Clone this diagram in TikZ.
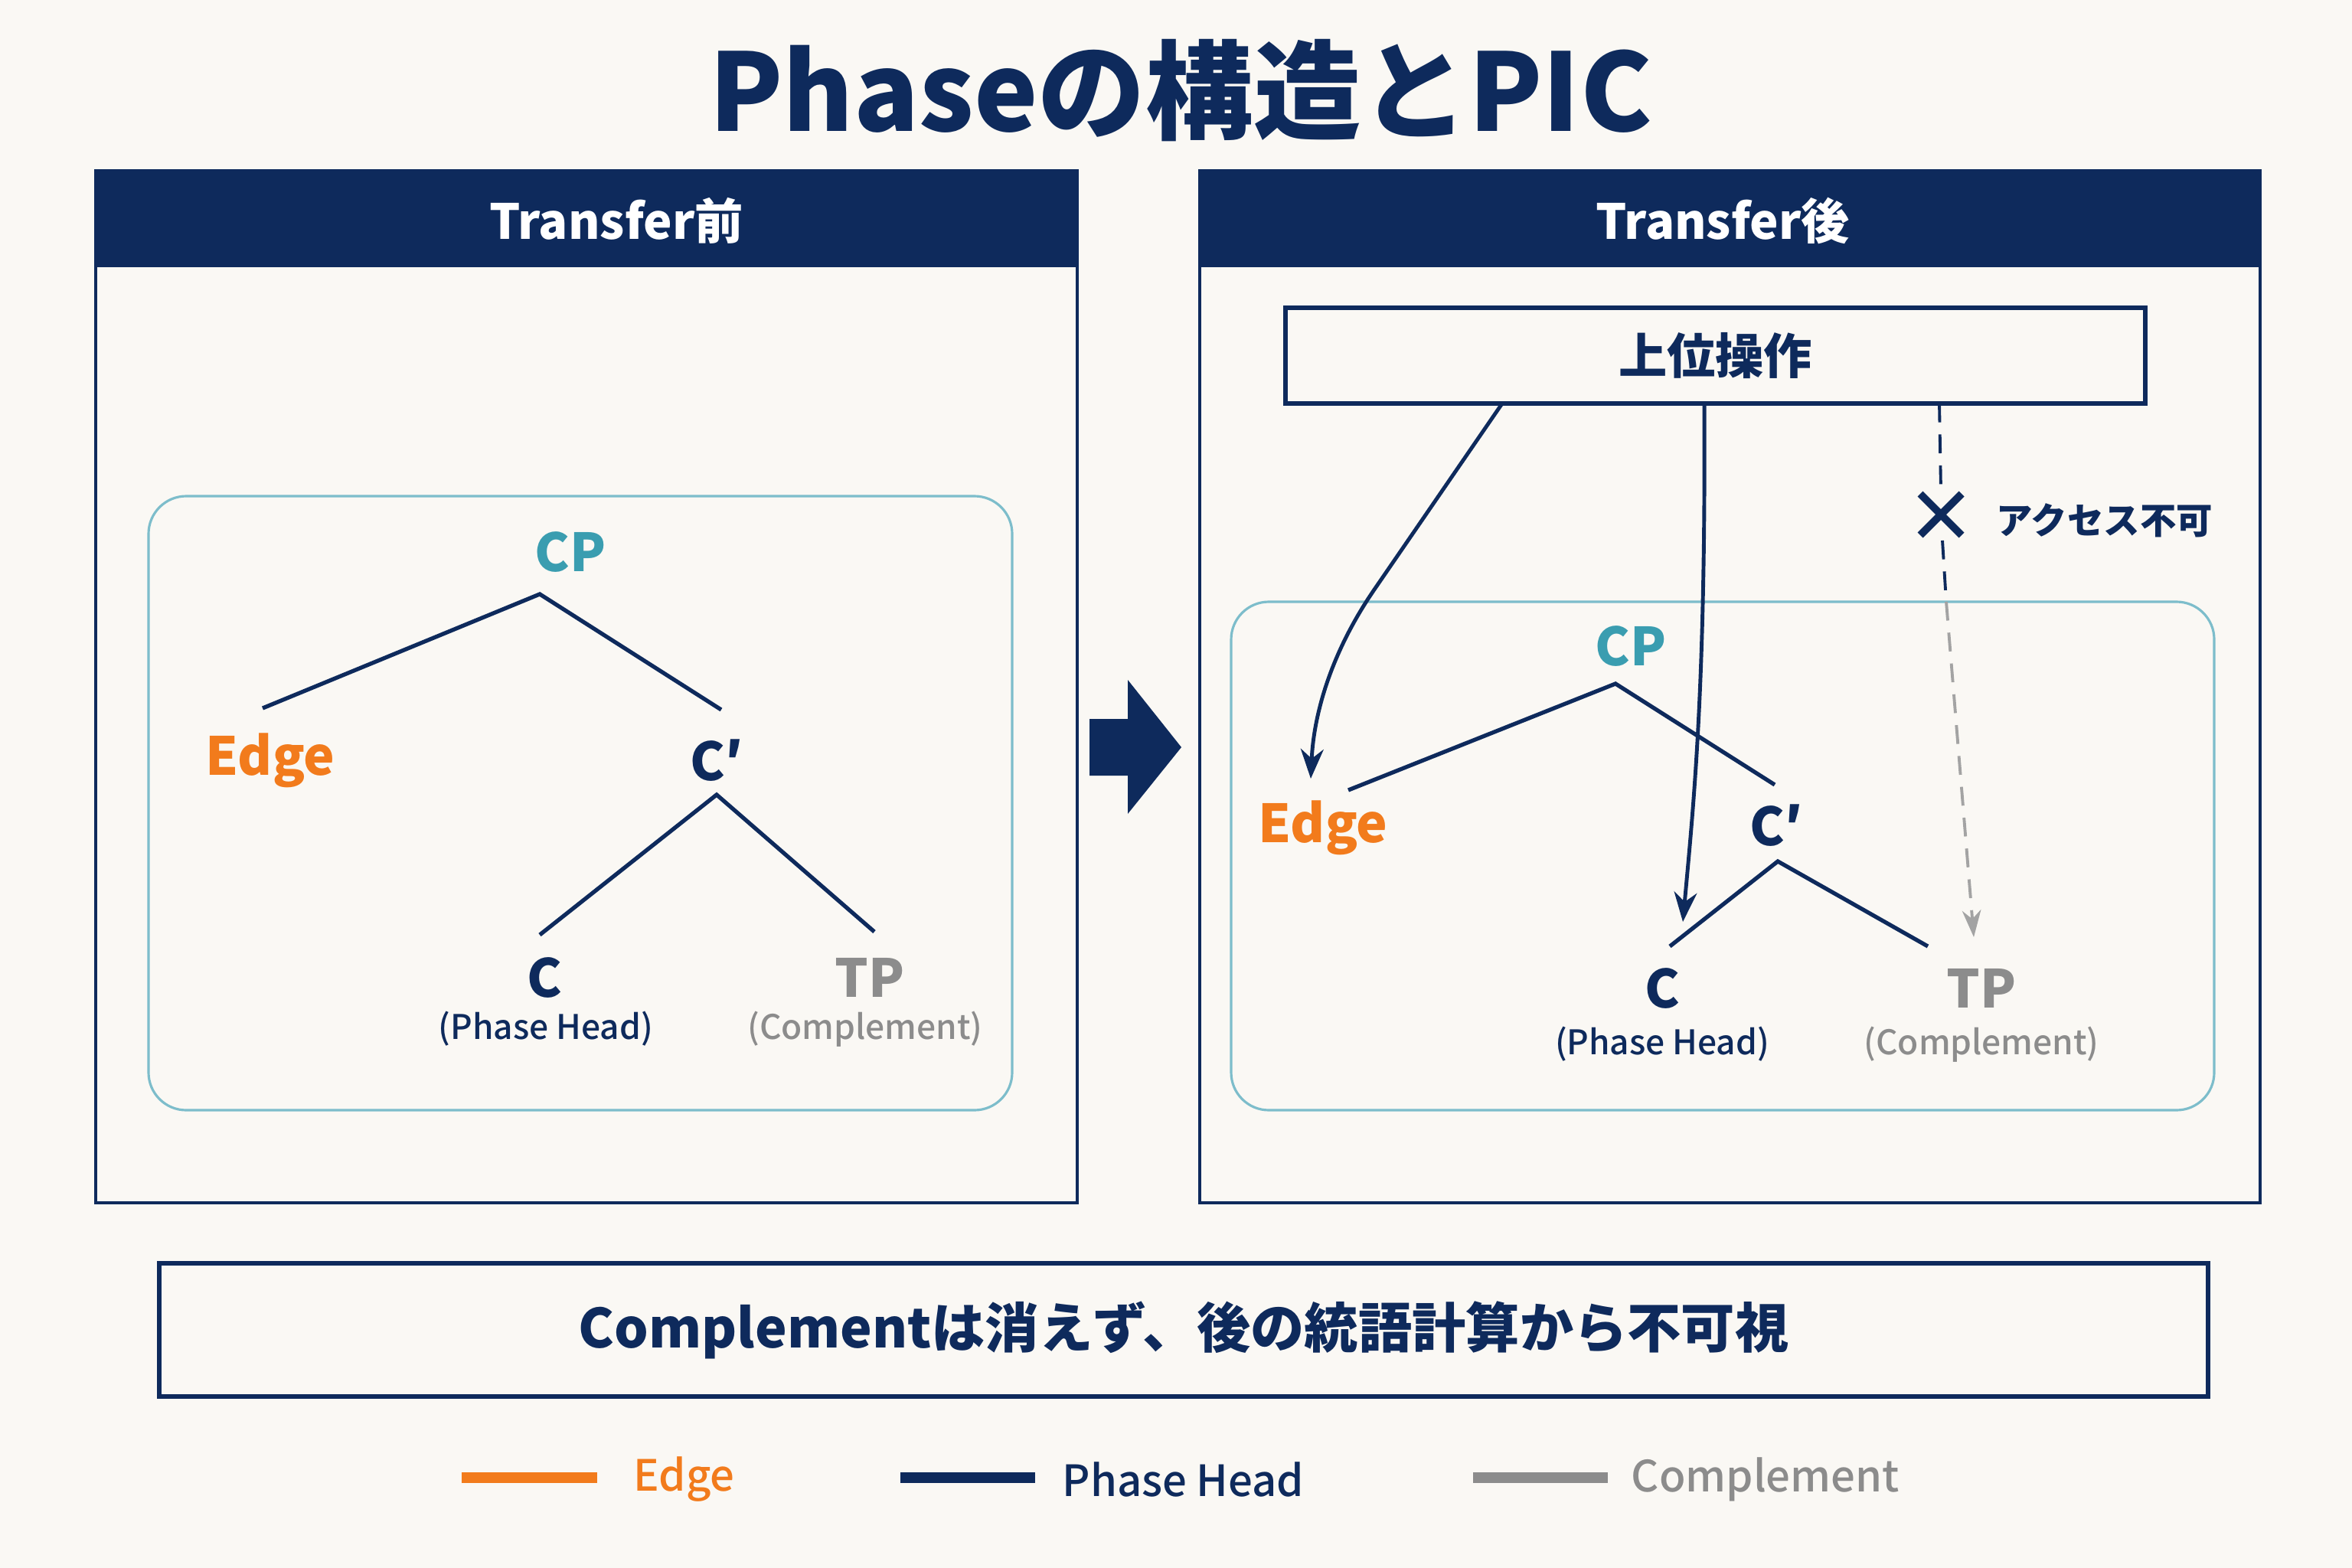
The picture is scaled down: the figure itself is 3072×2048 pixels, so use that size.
\documentclass[tikz,border=0pt]{standalone}
\usepackage{fontspec}
\setmainfont{Noto Sans CJK JP}
\newfontfamily\medfont{Noto Sans CJK JP Medium}
\usetikzlibrary{arrows.meta}
\definecolor{navy}{HTML}{0E2A5C}
\definecolor{bgc}{HTML}{FAF8F4}
\definecolor{tealt}{HTML}{3A9DB0}
\definecolor{tealbox}{HTML}{7DBDCB}
\definecolor{edgeor}{HTML}{F27B1C}
\definecolor{cgray}{HTML}{8C8C8C}
\definecolor{lgray}{HTML}{A3A3A3}
\begin{document}
\begin{tikzpicture}[x=0.1mm,y=-0.1mm,
  panel/.style={draw=navy, line width=1.2pt},
  hdrtext/.style={text=white, font=\bfseries\fontsize{18}{22}\selectfont, inner sep=0},
  innerbox/.style={draw=tealbox, line width=0.9pt, rounded corners=14pt},
  lbl/.style={font=\bfseries\fontsize{19.5}{24}\selectfont, inner sep=0},
  sub/.style={font=\medfont\fontsize{12.6}{16}\selectfont, inner sep=0},
  treeline/.style={draw=navy, line width=1.5pt},
  opsarrow/.style={draw=navy, line width=1.4pt, -{Stealth[length=11pt,width=8.5pt]}},
  dashnavy/.style={draw=navy, line width=1.1pt, dash pattern=on 7pt off 4.5pt},
  dashgray/.style={draw=lgray, line width=1.1pt, dash pattern=on 7pt off 4.5pt, -{Stealth[length=10pt,width=7pt,fill=lgray]}},
  legline/.style={line width=4pt},
  legtext/.style={font=\medfont\fontsize{16}{20}\selectfont, inner sep=0, anchor=west}
]
\fill[bgc] (0,0) rectangle (3072,2048);
\useasboundingbox (0,0) rectangle (3072,2048);

% Title
\node[text=navy, font=\bfseries\fontsize{40}{46}\selectfont, inner sep=0] (title) at (1542,118) {Phaseの構造とPIC};

% ---------- Left panel ----------
\draw[panel] (125,223) rectangle (1407,1571);
\fill[navy] (125,223) rectangle (1407,349);
\node[hdrtext] (lhdr) at (805,288) {Transfer前};
\draw[innerbox] (194,648) rectangle (1322,1450);

\node[lbl, text=tealt] (lCP) at (745,721) {CP};
\node[lbl, text=edgeor] (lEdge) at (353,993) {Edge};
\node[lbl, text=navy] (lCb) at (936,993) {C′};
\node[lbl, text=navy] (lC) at (711,1277) {C};
\node[sub, text=navy] (lCs) at (713,1344) {(Phase Head)};
\node[lbl, text=cgray] (lTP) at (1136,1277) {TP};
\node[sub, text=cgray] (lTPs) at (1130,1344) {(Complement)};

\coordinate (lapex) at (705,776);
\coordinate (lEdgeTop) at (343,925);
\coordinate (lCbTop) at (942,927);
\coordinate (lCbBot) at (936,1038);
\coordinate (lCTop) at (705,1221);
\coordinate (lTPTop) at (1142,1217);
\draw[treeline] (lEdgeTop) -- (lapex) -- (lCbTop);
\draw[treeline] (lCTop) -- (lCbBot) -- (lTPTop);

% ---------- Block arrow ----------
\fill[navy] (1423,939) -- (1473,939) -- (1473,888) -- (1543,976) -- (1473,1063) -- (1473,1013) -- (1423,1013) -- cycle;

% ---------- Right panel ----------
\draw[panel] (1567,223) rectangle (2952,1571);
\fill[navy] (1567,223) rectangle (2952,349);
\node[hdrtext] (rhdr) at (2250,288) {Transfer後};

\node[draw=navy, line width=1.5pt, minimum width=1123*0.1mm, minimum height=125*0.1mm, inner sep=0,
  font=\bfseries\fontsize{18}{21}\selectfont, text=navy] (ops) at (2240.5,464.5) {上位操作};

\draw[innerbox] (1608,786) rectangle (2892,1450);

\node[lbl, text=tealt] (rCP) at (2130,844) {CP};
\node[lbl, text=edgeor] (rEdge) at (1728,1081) {Edge};
\node[lbl, text=navy] (rCb) at (2320,1078) {C′};
\node[lbl, text=navy] (rC) at (2171,1291) {C};
\node[sub, text=navy] (rCs) at (2171,1364) {(Phase Head)};
\node[lbl, text=cgray] (rTP) at (2588,1291) {TP};
\node[sub, text=cgray] (rTPs) at (2588,1364) {(Complement)};

\coordinate (rapex) at (2110,893);
\coordinate (rEdgeTop) at (1761,1032);
\coordinate (rCbTop) at (2318,1025);
\coordinate (rCbBot) at (2322,1125);
\coordinate (rCTop) at (2181,1236);
\coordinate (rTPTop) at (2518,1236);
\draw[treeline] (rEdgeTop) -- (rapex) -- (rCbTop);
\draw[treeline] (rCTop) -- (rCbBot) -- (rTPTop);

% arrows from ops
\coordinate (o1) at (1962,527);
\coordinate (o2) at (2226,527);
\coordinate (o3) at (2533,527);
\coordinate (bend) at (1795,770);
\coordinate (e1) at (1712,1017);
\coordinate (e2) at (2198,1204);
\draw[opsarrow] (o1) -- (bend) .. controls (1740,850) and (1716,930) .. (e1);
\draw[opsarrow] (o2) .. controls (2228,900) and (2212,1050) .. (e2);

% blocked access
\coordinate (xm) at (2535,672);
\coordinate (xtop) at (2535,640);
\coordinate (xbot) at (2537,706);
\coordinate (dbox) at (2542,786);
\coordinate (dtip) at (2578,1224);
\draw[dashnavy] (o3) -- (xtop);
\draw[dashnavy] (xbot) -- (dbox);
\draw[dashgray] (dbox) -- (dtip);
\draw[navy, line width=2.8pt] ([shift={(-27,-27)}]xm) -- ([shift={(27,27)}]xm);
\draw[navy, line width=2.8pt] ([shift={(27,-27)}]xm) -- ([shift={(-27,27)}]xm);
\node[text=navy, font=\bfseries\fontsize{13.5}{15}\selectfont, inner sep=0, anchor=west] (noacc) at (2607,680) {アクセス不可};

% ---------- Bottom statement ----------
\node[draw=navy, line width=1.5pt, minimum width=2676*0.1mm, minimum height=174*0.1mm, inner sep=0,
  font=\bfseries\fontsize{20}{24}\selectfont, text=navy] (note) at (1546,1737) {Complementは消えず、後の統語計算から不可視};

% ---------- Legend ----------
\coordinate (lg1a) at (603,1930); \coordinate (lg1b) at (780,1930);
\coordinate (lg2a) at (1176,1930); \coordinate (lg2b) at (1352,1930);
\coordinate (lg3a) at (1924,1930); \coordinate (lg3b) at (2100,1930);
\draw[legline, edgeor] (lg1a) -- (lg1b);
\draw[legline, navy] (lg2a) -- (lg2b);
\draw[legline, cgray] (lg3a) -- (lg3b);
\node[legtext, text=edgeor] (leg1) at (827,1932) {Edge};
\node[legtext, text=navy] (leg2) at (1387,1932) {Phase Head};
\node[legtext, text=cgray] (leg3) at (2130,1932) {Complement};
\end{tikzpicture}
\end{document}
